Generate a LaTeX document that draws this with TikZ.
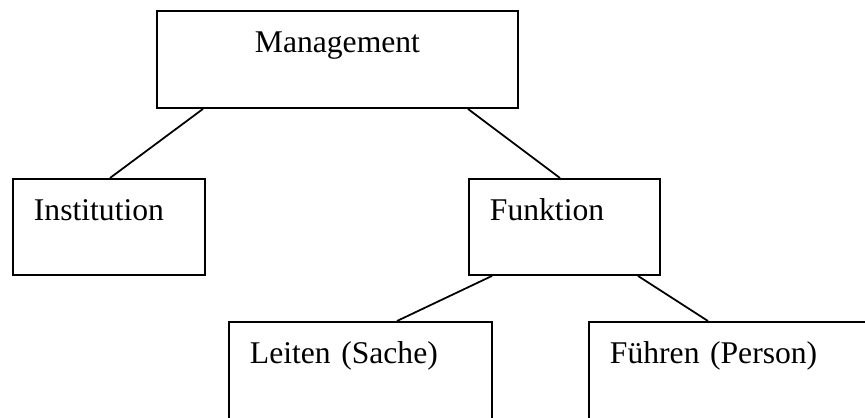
\documentclass[tikz,border=0pt]{standalone}
\usepackage{fontspec}
\setmainfont{Liberation Serif}
\tikzset{
	box/.style={draw,line width=1.1pt,rectangle,anchor=north west,inner xsep=0.42cm,inner ysep=0pt,text height=0.84cm,align=left,font=\fontsize{18}{20}\selectfont},
	link/.style={line width=1pt}
}
\begin{document}
\begin{tikzpicture}[x=0.02cm,y=-0.02cm]
		\path[use as bounding box,clip] (0,0) rectangle (865,417);
		\node[box,inner xsep=0pt,align=center,text width=7.22cm,text depth=1.1cm] (mgmt) at (156,10) {Management};
		\node[box,text width=3cm,text depth=1.08cm] (inst) at (12,178) {Institution};
		\node[box,text width=2.98cm,text depth=1.08cm] (funk) at (468,178) {Funktion};
		\node[box,text width=4.42cm,text depth=1.54cm] (leiten) at (228,321) {Leiten (Sache)};
		\node[box,text width=5.4cm,text depth=1.54cm] (fuehren) at (588,321) {Führen (Person)};
		\draw[link] ([xshift=0.94cm]mgmt.south west) -- ([xshift=1.96cm]inst.north west);
		\draw[link] ([xshift=6.24cm]mgmt.south west) -- ([xshift=1.84cm]funk.north west);
		\draw[link] ([xshift=0.48cm]funk.south west) -- ([xshift=3.38cm]leiten.north west);
		\draw[link] ([xshift=3.4cm]funk.south west) -- ([xshift=2.4cm]fuehren.north west);
		\end{tikzpicture}
\end{document}
